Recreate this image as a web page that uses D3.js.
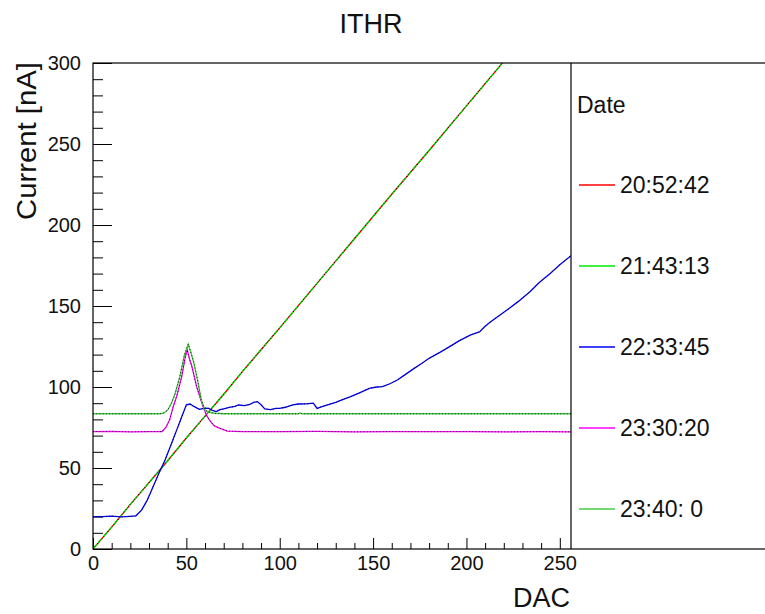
<!DOCTYPE html>
<html>
<head>
<meta charset="utf-8">
<script src="https://cdn.jsdelivr.net/npm/d3@7"></script>
<style>
  body { margin: 0; background: #fff; }
  svg { display: block; font-family: "Liberation Sans", Arial, sans-serif; }
</style>
</head>
<body>
<div id="chart"></div>
<script>
// [DAC, current nA]
const s205242 = [[0,0],[10,13.5],[20,27.5],[30,41],[40,54.5],[50,68.5],[60,82],[70,95.5],[80,109.5],[90,123],[100,136.5],[120,164],[140,191.5],[160,219],[180,246],[200,273.5],[220,301],[240,328],[256,350]];
const s214313 = [[0,0],[10,13.5],[20,27.5],[30,41],[40,54.5],[50,68.5],[60,82],[70,95.5],[80,109.5],[90,123],[100,136.5],[120,164],[140,191.5],[160,219],[180,246],[200,273.5],[220,301],[240,328],[256,350]];
const s223345 = [[0,20],[5,20],[10,20.3],[15,19.8],[20,20.2],[23,20.5],[26,24],[29,30],[32,38],[35,46],[38.6,55],[42,65],[45,74],[48,83],[50,89],[52,89.5],[54,88],[57,86.2],[60,87],[62,86.8],[64,85.5],[66,84.8],[68,86],[70,86.5],[73,87.4],[76,88],[78,88.9],[81,88.5],[84,89.2],[86,90.5],[88,91],[90,89],[92,86.5],[95,86],[98,86.8],[100,86.8],[103,87.5],[107,88.9],[110,89.5],[114,89.6],[118,90],[120,86.8],[123,88],[127,89.5],[130,90.5],[134,92.4],[138,94],[143,96.5],[148,99.2],[152,100],[155,100.2],[159,102],[163,104.3],[167,107.5],[172,111.5],[176,114.5],[180,117.7],[186,121.5],[191,124.9],[196,128.5],[202,132],[205,133.2],[207,134],[210,137.5],[213,140.3],[218,144.5],[223,148.6],[228,153],[234,158.8],[239,164.5],[245,170.2],[250,175.5],[256,181]];
const s233020 = [[0,72.5],[10,72.6],[20,72.3],[30,72.5],[37,72.5],[39,75],[41,79.6],[43,88],[45,95],[47.5,106.4],[49.5,119],[50.5,123],[51.5,118],[53,112.5],[55.5,100.2],[57.5,93],[59,87.8],[61,82],[63,78.6],[65,76],[68,74.5],[72,72.8],[80,72.5],[100,72.4],[120,72.6],[140,72.3],[160,72.5],[180,72.4],[200,72.5],[220,72.3],[240,72.4],[256,72.3]];
const s23400 = [[0,83.5],[20,83.5],[36,83.5],[38,84],[40,85.8],[42,90],[44,96],[46.5,106.4],[49,120],[51,126.5],[52.5,121],[54,115],[56,104.3],[58,92],[60,85.8],[62,84.5],[65,83.8],[70,83.5],[110,83.5],[111,84],[112,83.5],[256,83.5]];

const seriesNames = ["20:52:42", "21:43:13", "22:33:45", "23:30:20", "23:40: 0"];
const seriesColors = ["#ff0000", "#00ee00", "#0000ff", "#ff00ff", "#44cc44"];
const seriesData = [s205242, s214313, s223345, s233020, s23400];

const xMajor = [0, 50, 100, 150, 200, 250];
const yMajor = [0, 50, 100, 150, 200, 250, 300];

const W = 765, H = 614;
const mLeft = 93, mRight = 571, mTop = 63, mBottom = 549;

const svg = d3.select("#chart").append("svg")
    .attr("width", W)
    .attr("height", H);

const x = d3.scaleLinear().domain([0, 256]).range([mLeft, mRight]);
const y = d3.scaleLinear().domain([0, 300]).range([mBottom, mTop]);

svg.append("clipPath").attr("id", "clip")
    .append("rect")
    .attr("x", mLeft).attr("y", mTop)
    .attr("width", mRight - mLeft).attr("height", mBottom - mTop);

// minor ticks
const xMinor = d3.range(0, 257, 10).filter(v => v % 50 != 0);
const yMinor = d3.range(0, 301, 10).filter(v => v % 50 != 0);

svg.append("g")
    .attr("transform", `translate(0,${mBottom})`)
    .call(d3.axisBottom(x).tickValues(xMinor).tickSize(-6).tickFormat(""))
    .call(g => g.select(".domain").remove());

svg.append("g")
    .attr("transform", `translate(${mLeft},0)`)
    .call(d3.axisLeft(y).tickValues(yMinor).tickSize(-10).tickFormat(""))
    .call(g => g.select(".domain").remove());

// major ticks + labels
const xAxis = svg.append("g")
    .attr("transform", `translate(0,${mBottom})`)
    .call(d3.axisBottom(x).tickValues(xMajor).tickSize(-11).tickPadding(7))
    .call(g => g.select(".domain").remove());

const yAxis = svg.append("g")
    .attr("transform", `translate(${mLeft},0)`)
    .call(d3.axisLeft(y).tickValues(yMajor).tickSize(-19).tickPadding(12))
    .call(g => g.select(".domain").remove());

svg.selectAll(".tick line").attr("stroke", "#000");
[xAxis, yAxis].forEach(a => a.attr("font-size", null).attr("font-family", null)
    .selectAll("text").style("font-size", "20px").attr("fill", "#111"));

// lines
const line = d3.line()
    .x(d => x(d[0]))
    .y(d => y(d[1]));

const plot = svg.append("g").attr("clip-path", "url(#clip)");

seriesData.forEach((s, i) => {
    plot.append("path")
        .datum(s)
        .attr("fill", "none")
        .attr("stroke", seriesColors[i])
        .attr("stroke-width", 1.3)
        // second graph lies exactly on the first one, let some red show through
        .attr("stroke-dasharray", i == 1 ? "6,2" : null)
        .attr("d", line);
    // black marker dots along the graph
    plot.append("path")
        .datum(s)
        .attr("fill", "none")
        .attr("stroke", "#000")
        .attr("stroke-width", 1)
        .attr("stroke-opacity", 0.8)
        .attr("stroke-dasharray", "1,2.2")
        .attr("d", line);
});

// frame (extends under the legend to the right edge)
svg.append("rect")
    .attr("x", mLeft).attr("y", mTop)
    .attr("width", 800 - mLeft).attr("height", mBottom - mTop)
    .attr("fill", "none").attr("stroke", "#000").attr("stroke-width", 1.2);
svg.append("line")
    .attr("x1", mRight).attr("x2", mRight)
    .attr("y1", mTop).attr("y2", mBottom)
    .attr("stroke", "#000").attr("stroke-width", 1.2);

// legend
svg.append("text")
    .attr("x", 577).attr("y", 105)
    .attr("dy", "0.35em")
    .style("font-size", "23px")
    .attr("fill", "#111")
    .text("Date");

const legendY = d3.scalePoint().domain(seriesNames).range([185, 509]);

const leg = svg.append("g").selectAll("g")
    .data(seriesNames)
    .join("g")
    .attr("transform", d => `translate(0,${legendY(d)})`);

leg.append("line")
    .attr("x1", 579).attr("x2", 615)
    .attr("stroke", (d, i) => seriesColors[i])
    .attr("stroke-width", 1.3);

leg.append("text")
    .attr("x", 620)
    .attr("dy", "0.35em")
    .style("font-size", "23px")
    .attr("fill", "#111")
    .text(d => d);

// titles
svg.append("text")
    .attr("x", 371).attr("y", 33)
    .attr("text-anchor", "middle")
    .style("font-size", "27px")
    .attr("fill", "#111")
    .text("ITHR");

svg.append("text")
    .attr("x", 570).attr("y", 607)
    .attr("text-anchor", "end")
    .style("font-size", "27px")
    .attr("fill", "#111")
    .text("DAC");

svg.append("text")
    .attr("transform", "translate(36,62) rotate(-90)")
    .attr("text-anchor", "end")
    .style("font-size", "27px")
    .attr("textLength", 158)
    .attr("lengthAdjust", "spacingAndGlyphs")
    .attr("fill", "#111")
    .text("Current [nA]");
</script>
</body>
</html>
